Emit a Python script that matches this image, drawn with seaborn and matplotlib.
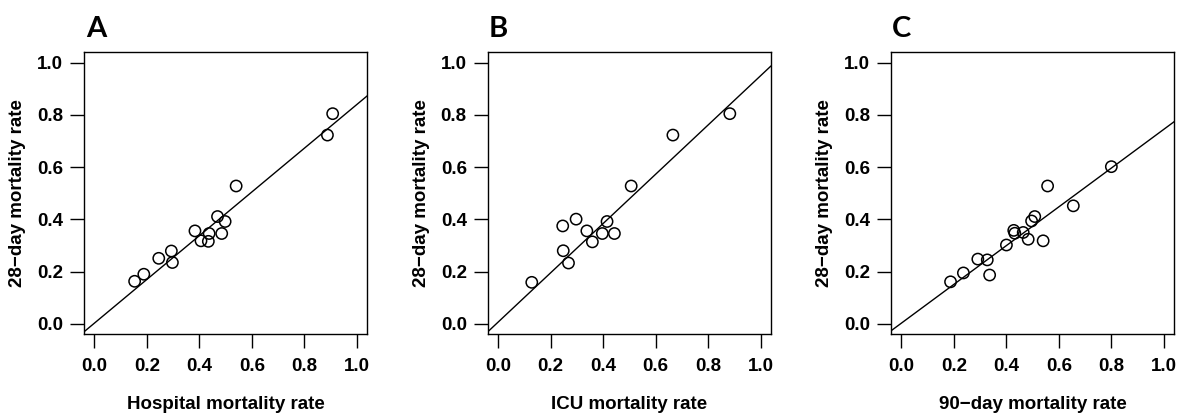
import numpy as np
import pandas as pd
import matplotlib
matplotlib.use("Agg")
import matplotlib.pyplot as plt
import seaborn as sns

# ── Data ─────────────────────────────────────────────────────────────
hosp_x = [0.153, 0.188, 0.245, 0.293, 0.297, 0.383, 0.406, 0.434, 0.437,
          0.469, 0.485, 0.498, 0.540, 0.888, 0.908]
hosp_y = [0.163, 0.190, 0.251, 0.279, 0.235, 0.356, 0.318, 0.316, 0.346,
          0.411, 0.346, 0.392, 0.528, 0.723, 0.805]

icu_x = [0.128, 0.248, 0.268, 0.246, 0.297, 0.338, 0.359, 0.397, 0.415,
         0.443, 0.507, 0.666, 0.883]
icu_y = [0.159, 0.280, 0.233, 0.375, 0.401, 0.356, 0.314, 0.346, 0.392,
         0.346, 0.528, 0.723, 0.805]

d90_x = [0.187, 0.236, 0.291, 0.327, 0.336, 0.400, 0.428, 0.432, 0.464,
         0.483, 0.496, 0.508, 0.540, 0.557, 0.655, 0.800]
d90_y = [0.161, 0.195, 0.248, 0.245, 0.187, 0.302, 0.358, 0.347, 0.350,
         0.324, 0.394, 0.411, 0.318, 0.528, 0.452, 0.602]

# fitted lines: intercept, slope
fit_intercept = [0.003, 0.007, 0.003]
fit_slope     = [0.837, 0.943, 0.742]

panel_letters = ["A", "B", "C"]
x_labels = ["Hospital mortality rate", "ICU mortality rate", "90\u2212day mortality rate"]
y_label = "28\u2212day mortality rate"
ticks = [0.0, 0.2, 0.4, 0.6, 0.8, 1.0]

panels = [(hosp_x, hosp_y), (icu_x, icu_y), (d90_x, d90_y)]

# ── Style ─────────────────────────────────────────────────────────────
sns.set_theme(style="ticks")
plt.rcParams["font.family"] = ["Liberation Sans", "DejaVu Sans"]
plt.rcParams["font.weight"] = "bold"
plt.rcParams["text.color"] = "black"
plt.rcParams["axes.labelcolor"] = "black"
plt.rcParams["xtick.color"] = "black"
plt.rcParams["ytick.color"] = "black"

W, H = 1179, 415
fig = plt.figure(figsize=(W / 100, H / 100), dpi=100)

lefts = [84, 487.7, 891]
ax_w, ax_h = 283.3, 282
ax_bottom = 415 - 334.3
letter_x = [86, 489, 892]

for i, (xs, ys) in enumerate(panels):
    ax = fig.add_axes([lefts[i] / W, ax_bottom / H, ax_w / W, ax_h / H])
    df = pd.DataFrame({"x": xs, "y": ys})
    sns.scatterplot(data=df, x="x", y="y", ax=ax, s=66, marker="o",
                    facecolor="none", edgecolor="black", linewidth=1.1)
    ax.axline((0, fit_intercept[i]), slope=fit_slope[i], color="black", lw=1.0)

    ax.set_xlim(-0.04, 1.04); ax.set_ylim(-0.04, 1.04)
    ax.set_xticks(ticks); ax.set_yticks(ticks)
    ax.set_xticklabels([f"{t:.1f}" for t in ticks], fontsize=13.5, fontweight="bold")
    ax.set_yticklabels([f"{t:.1f}" for t in ticks], fontsize=13.5, fontweight="bold")
    ax.tick_params(axis="both", length=10, width=1.0, color="black")
    ax.tick_params(axis="x", pad=7)
    ax.tick_params(axis="y", pad=5)
    for sp in ax.spines.values():
        sp.set_visible(True); sp.set_color("black"); sp.set_linewidth(1.0)

    ax.set_xlabel(x_labels[i], fontsize=13.5, fontweight="bold")
    ax.set_ylabel(y_label, fontsize=13.5, fontweight="bold")
    ax.xaxis.set_label_coords(0.5, -0.218)
    ax.yaxis.set_label_coords(-0.205, 0.5)

    fig.text(letter_x[i] / W, 1 - 37 / H, panel_letters[i], fontsize=21,
             fontweight="bold", family=["Lato", "DejaVu Sans"], va="baseline")

fig.savefig("out.png", dpi=100)
